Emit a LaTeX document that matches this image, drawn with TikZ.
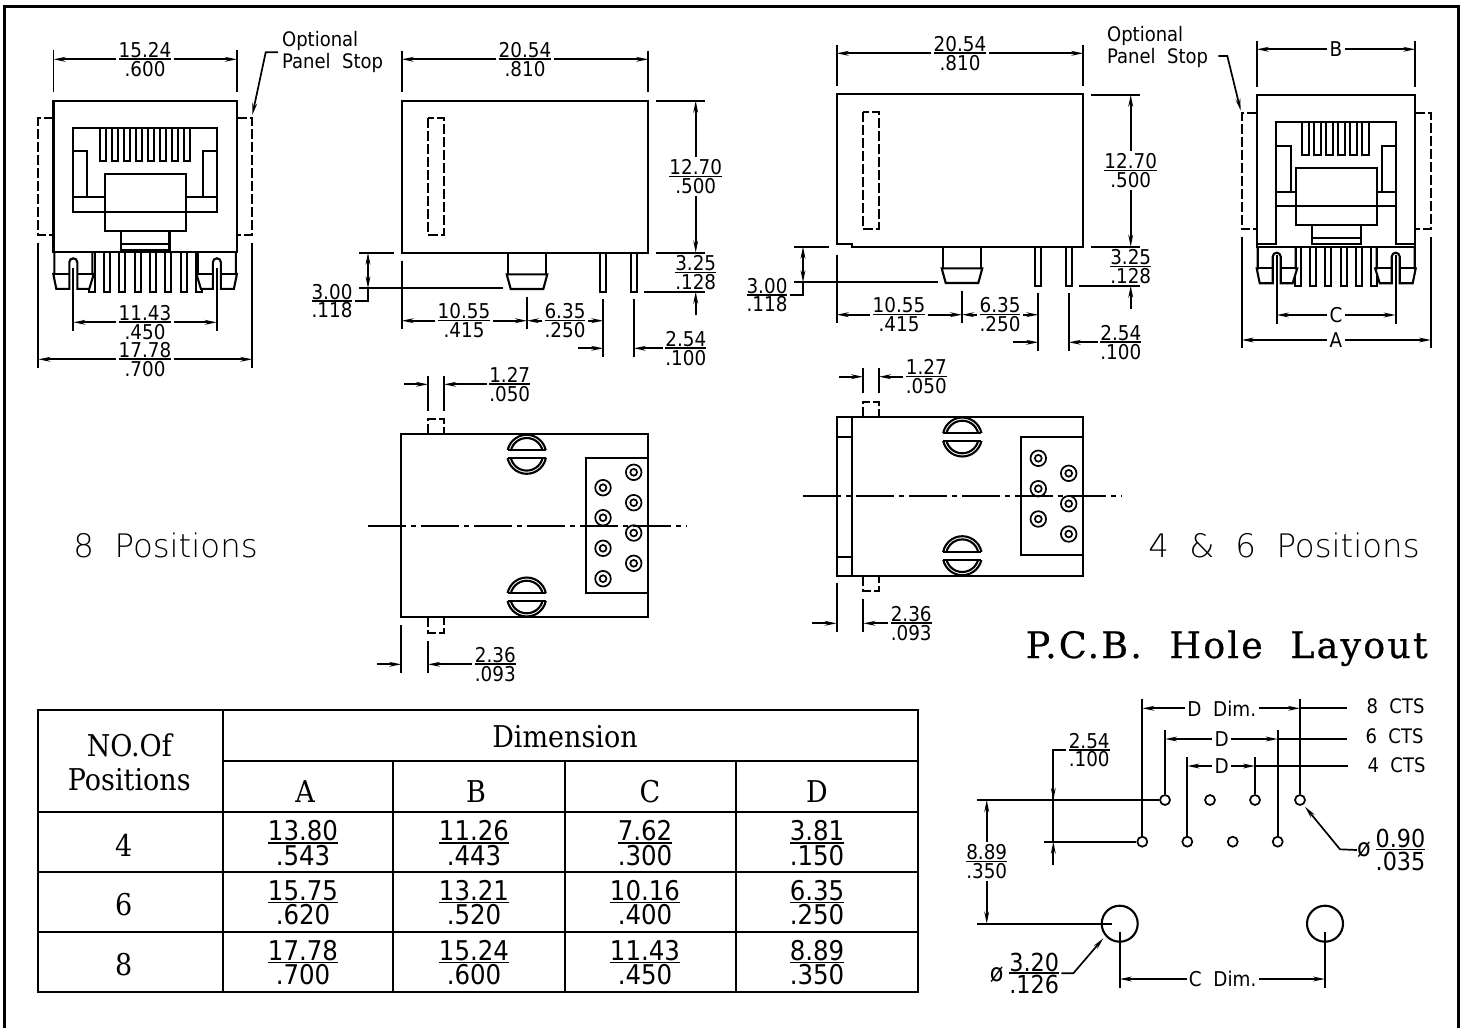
\documentclass[tikz,border=0pt]{standalone}
\usepackage{fontspec}
\usepackage{array}
\setmainfont{DejaVu Sans}
\newfontfamily\dimfont[FakeStretch=0.9]{DejaVu Sans}
\newfontfamily\lightfont{DejaVu Sans ExtraLight}
\newfontfamily\tablefont[FakeStretch=0.9]{DejaVu Serif}
\newfontfamily\titlefont[LetterSpace=6,FakeBold=0.6]{DejaVu Serif}
\usetikzlibrary{arrows.meta, positioning, calc}

% stacked metric/inch value with the rule in the middle
\newcommand{\dimstack}[2]{\begingroup\renewcommand{\arraystretch}{0}\setlength{\tabcolsep}{0pt}\setlength{\arrayrulewidth}{0.8pt}%
  \begin{tabular}{c}\rule[-.05em]{0pt}{.8em}#1\\\hline\rule{0pt}{.8em}#2\end{tabular}\endgroup}

\tikzset{
  part/.style={line width=1.05pt},
  dim/.style={line width=0.85pt},
  dashpart/.style={part, dash pattern=on 5pt off 1.5pt},
  dimarrow/.style={dim, -{Stealth[length=6pt,width=2.4pt]}},
  centerline/.style={dim, dash pattern=on 19pt off 2.5pt on 2.5pt off 2.5pt},
  dimlabel/.style={font=\dimfont\fontsize{10.2pt}{12pt}\selectfont, inner sep=1pt},
  celllabel/.style={font=\dimfont\fontsize{13.6pt}{15pt}\selectfont, inner sep=0pt},
  pcblabel/.style={font=\dimfont\fontsize{12.4pt}{15pt}\selectfont, inner sep=1pt},
  note/.style={font=\dimfont\fontsize{10pt}{12pt}\selectfont, inner sep=0pt},
  bigtext/.style={font=\lightfont\fontsize{16.2pt}{18pt}\selectfont, inner sep=0pt},
  tablehead/.style={font=\tablefont\fontsize{15pt}{18pt}\selectfont, inner sep=0pt},
  hole/.style={draw, circle, dim, inner sep=0pt, minimum size=5pt},
  bighole/.style={draw, circle, part, inner sep=0pt, minimum size=18pt},
  % jack clip below the housing, origin at pin centre on the housing edge
  rjclip/.pic={
    \draw[part, fill=white] (-19,0) -- (-19,21.7) -- (-20,21.7) -- (-17,36.5) -- (-4,36.5) -- (-4,10)
      arc[start angle=180, end angle=360, radius=4] -- (4,36.5) -- (16,36.5) -- (20.5,21.7) -- (19,21.7) -- (19,0);
    \draw[part] (-20,21.7) -- (-4,21.7) (4,21.7) -- (20.5,21.7);
  },
  % plug outline, origin at centre on the housing edge
  rjplug/.pic={
    \draw[part] (-40.6,-78.3) rectangle (40.6,-21.3);
    \draw[part] (-24.3,-21.3) -- (-24.3,-2.6) -- (24.3,-2.6) -- (24.3,-21.3);
    \draw[part] (-24.3,-8.6) -- (24.3,-8.6);
  },
  latch/.pic={
    \draw[part] (0,0) circle[radius=19.5];
    \draw[part] (0,0) circle[radius=16.3];
    \fill[white] (-21,-3.9) rectangle (21,3.9);
    \draw[part] (-19.1,-3.9) -- (19.1,-3.9) (-19.1,3.9) -- (19.1,3.9);
  },
  pad/.pic={
    \draw[dim] (0,0) circle[radius=7.8];
    \draw[dim] (0,0) circle[radius=3.4];
  },
  % side view, drawn at the place of the 8 position one
  sideview/.pic={
    \draw[dashpart] (427.7,118.3) rectangle (444.3,235);
    \draw[part] (508.3,252.7) -- (508.3,274.3) (546,252.7) -- (546,274.3);
    \draw[part] (506.7,274.3) -- (547.3,274.3) -- (543.3,289) -- (510.7,289) -- cycle;
    \draw[part] (599.7,252.7) rectangle (606.3,291.7);
    \draw[part] (630.7,252.7) rectangle (637,291.7);
    % Labels
    \node[dimlabel] (-len) at (525,59.3) {\dimstack{20.54}{.810}};
    \node[dimlabel] (-hgt) at (695.7,176.7) {\dimstack{12.70}{.500}};
    \node[dimlabel] (-pin) at (695.7,272.5) {\dimstack{3.25}{.128}};
    \node[dimlabel] (-post) at (332,301) {\dimstack{3.00}{.118}};
    \node[dimlabel] (-fro) at (464,320.7) {\dimstack{10.55}{.415}};
    \node[dimlabel] (-mid) at (565,320.7) {\dimstack{6.35}{.250}};
    \node[dimlabel] (-pit) at (685.8,348.3) {\dimstack{2.54}{.100}};
    % Arrows
    \draw[dim] (401.7,50.7) -- (401.7,92.3) (648.3,50.7) -- (648.3,92.3);
    \draw[dimarrow] (-len.west) -- (401.7,59.3);
    \draw[dimarrow] (-len.east) -- (648.3,59.3);
    \draw[dim] (656,100.7) -- (705,100.7) (656,252.7) -- (705,252.7) (644.3,291.7) -- (705,291.7);
    \draw[dimarrow] (-hgt.north) -- (695.7,100.7);
    \draw[dimarrow] (-hgt.south) -- (695.7,252.7);
    \draw[dimarrow] (695.7,315) -- (695.7,291.7);
    \draw[dim] (359,252.7) -- (394,252.7) (359,288.3) -- (502.7,288.3);
    \draw[dim, {Stealth[length=6pt,width=2.4pt]}-{Stealth[length=6pt,width=2.4pt]}] (368,252.7) -- (368,288.3);
    \draw[dim] (368,288.3) |- (-post.east);
    \draw[dim] (401.7,260.7) -- (401.7,329.3) (527,296.7) -- (527,329.3);
    \draw[dimarrow] (-fro.west) -- (401.7,320.7);
    \draw[dimarrow] (-fro.east) -- (527,320.7);
    \draw[dimarrow] (-mid.west) -- (527,320.7);
    \draw[dimarrow] (-mid.east) -- (603.3,320.7);
    \draw[dim] (603.3,299) -- (603.3,357) (633.7,299) -- (633.7,357);
    \draw[dimarrow] (578,348.3) -- (603.3,348.3);
    \draw[dimarrow] (-pit.west) -- (633.7,348.3);
  },
}

\begin{document}
\begin{tikzpicture}[x=0.5pt, y=-0.5pt]
    \useasboundingbox (0,0) rectangle (1465,1028);
    \draw[line width=1.2pt] (4.5,1028) -- (4.5,6.5) -- (1458.5,6.5) -- (1458.5,1028);

    % 8 position front view
    \foreach \k in {-3.5,-2.5,...,3.5}
        \draw[part] ({145.25+15.33*\k-3},252.3) -- ({145.25+15.33*\k-3},291.7) -- ({145.25+15.33*\k+3},291.7) -- ({145.25+15.33*\k+3},252.3);
    \pic at (73.3,252.3) {rjclip};
    \pic[xscale=-1] at (216.9,252.3) {rjclip};
    \draw[part] (53.5,100.7) rectangle (237,252.3);
    \draw[dashpart] (53.5,118.3) -- (38.3,118.3) -- (38.3,235) -- (53.5,235);
    \draw[dashpart] (237,118.3) -- (252.3,118.3) -- (252.3,235) -- (237,235);
    \draw[part] (73.3,127.7) rectangle (217,211.7);
    \foreach \k in {0,...,7}
        \draw[part] ({99.7+12*\k},127.7) |- ({106.4+12*\k},161) -- ({106.4+12*\k},127.7);
    \draw[part] (87,197.3) -- (87,151.3) -- (73.3,151.3) (73.3,197.3) -- (104.6,197.3);
    \draw[part] (203,197.3) -- (203,151.3) -- (217,151.3) (217,197.3) -- (185.8,197.3);
    \pic at (145.2,252.3) {rjplug};

    \node[dimlabel] (fw) at (145,59.3) {\dimstack{15.24}{.600}};
    \node[dimlabel] (fc) at (145,322.3) {\dimstack{11.43}{.450}};
    \node[dimlabel] (fa) at (145,359.3) {\dimstack{17.78}{.700}};
    \node[note, anchor=base west] (fopt) at (281.7,46.7) {Optional};
    \node[note, anchor=base west] (fstop) at (281.7,68.3) {Panel\ \ Stop};
    \draw[dim] (53.5,50) -- (53.5,91.7) (237,50) -- (237,91.7);
    \draw[dimarrow] (fw.west) -- (53.5,59.3);
    \draw[dimarrow] (fw.east) -- (237,59.3);
    \draw[dim] (73.3,268) -- (73.3,331) (216.7,268) -- (216.7,331);
    \draw[dimarrow] (fc.west) -- (73.3,322.3);
    \draw[dimarrow] (fc.east) -- (216.7,322.3);
    \draw[dim] (38.3,243) -- (38.3,368) (252.3,243) -- (252.3,368);
    \draw[dimarrow] (fa.west) -- (38.3,359.3);
    \draw[dimarrow] (fa.east) -- (252.3,359.3);
    \draw[dimarrow] (278,52.3) -- (265.7,52.3) -- (252.3,115);

    % side views
    \draw[part] (401.7,100.7) rectangle (648.3,252.7);
    \pic (sa) at (0,0) {sideview};
    \draw[part] (836.7,94.3) -- (1083.3,94.3) -- (1083.3,247) -- (851.7,247) -- (851.7,244) -- (836.7,244) -- cycle;
    \pic (sb) at (435,-6) {sideview};

    % 4 & 6 position front view
    \foreach \k in {-2.5,-1.5,...,2.5}
        \draw[part] ({1336+15.2*\k-3},246.7) -- ({1336+15.2*\k-3},285.7) -- ({1336+15.2*\k+3},285.7) -- ({1336+15.2*\k+3},246.7);
    \pic at (1276.7,246.7) {rjclip};
    \pic[xscale=-1] at (1395.7,246.7) {rjclip};
    \draw[part] (1256.7,94.7) rectangle (1415.3,246.7);
    \draw[dashpart] (1256.7,112.7) -- (1241.7,112.7) -- (1241.7,229.3) -- (1256.7,229.3);
    \draw[dashpart] (1415.3,112.7) -- (1431,112.7) -- (1431,229.3) -- (1415.3,229.3);
    \draw[part] (1256.7,244) -- (1275.7,244) -- (1275.7,122) -- (1396,122) -- (1396,244) -- (1415.3,244);
    \foreach \k in {0,...,5}
        \draw[part] ({1302.3+12*\k},122) |- ({1309+12*\k},154.7) -- ({1309+12*\k},122);
    \draw[part] (1291,191.7) -- (1291,145.7) -- (1275.7,145.7) (1275.7,191.7) -- (1296,191.7);
    \draw[part] (1381.7,191.7) -- (1381.7,145.7) -- (1396,145.7) (1396,191.7) -- (1376.7,191.7);
    \draw[part] (1275.7,205.7) -- (1396,205.7);
    \pic at (1336.3,246.7) {rjplug};

    \node[dimlabel] (fb) at (1336,49.3) {B};
    \node[dimlabel] (gc) at (1336,315) {C};
    \node[dimlabel] (ga) at (1336,340) {A};
    \node[note, anchor=base west] (gopt) at (1106.7,41.7) {Optional};
    \node[note, anchor=base west] (gstop) at (1106.7,63.3) {Panel\ \ Stop};
    \draw[dim] (1256.7,40.7) -- (1256.7,86.7) (1415.3,40.7) -- (1415.3,86.7);
    \draw[dimarrow] (fb.west) -- (1256.7,49.3);
    \draw[dimarrow] (fb.east) -- (1415.3,49.3);
    \draw[dim] (1276.7,255) -- (1276.7,324) (1395.7,255) -- (1395.7,324);
    \draw[dimarrow] (gc.west) -- (1276.7,315);
    \draw[dimarrow] (gc.east) -- (1395.7,315);
    \draw[dim] (1241.7,237.3) -- (1241.7,348) (1431,237.3) -- (1431,348);
    \draw[dimarrow] (ga.west) -- (1241.7,340);
    \draw[dimarrow] (ga.east) -- (1431,340);
    \draw[dimarrow] (1218.3,56) -- (1227.3,56) -- (1240.7,110.7);

    % bottom view, 8 positions
    \draw[part] (401.3,434) rectangle (648.3,617.3);
    \draw[dashpart] (428,434) -- (428,419) -- (444,419) -- (444,434);
    \draw[dashpart] (428,617.3) -- (428,632.7) -- (444,632.7) -- (444,617.3);
    \draw[part] (648.3,458.3) -- (585.7,458.3) -- (585.7,593.3) -- (648.3,593.3);
    \foreach \py in {487.7,517.7,548.3,578.7}
        \pic at (603,\py) {pad};
    \foreach \py in {472.3,502.7,533,563.3}
        \pic at (633.7,\py) {pad};
    \pic at (526.7,454.3) {latch};
    \pic at (526.7,597) {latch};
    \draw[centerline] (368.3,525.7) -- (686.7,525.7);
    \node[dimlabel] (ew) at (509.7,384.3) {\dimstack{1.27}{.050}};
    \node[dimlabel] (eo) at (495.3,664.3) {\dimstack{2.36}{.093}};
    \draw[dim] (428,375.7) -- (428,411) (444,375.7) -- (444,411);
    \draw[dimarrow] (404,384.3) -- (428,384.3);
    \draw[dimarrow] (ew.west) -- (444,384.3);
    \draw[dim] (401.3,625) -- (401.3,673.3) (428,641) -- (428,673.3);
    \draw[dimarrow] (377.3,664.3) -- (401.3,664.3);
    \draw[dimarrow] (eo.west) -- (428,664.3);

    % bottom view, 4 & 6 positions
    \draw[part] (836.7,417.3) rectangle (1083.3,575.7);
    \draw[part] (852,417.3) -- (852,575.7) (836.7,436.7) -- (852,436.7) (836.7,556.7) -- (852,556.7);
    \draw[dashpart] (863,417.3) -- (863,401.7) -- (879.3,401.7) -- (879.3,417.3);
    \draw[dashpart] (863,575.7) -- (863,590.7) -- (879.3,590.7) -- (879.3,575.7);
    \draw[part] (1083.3,437.3) -- (1020.7,437.3) -- (1020.7,555) -- (1083.3,555);
    \foreach \py in {458.3,488.7,519}
        \pic at (1038.3,\py) {pad};
    \foreach \py in {473.3,503.7,534}
        \pic at (1068.7,\py) {pad};
    \pic at (962.3,437) {latch};
    \pic at (962.3,555.7) {latch};
    \draw[centerline] (803.3,496) -- (1121.7,496);
    \node[dimlabel] (hw) at (926.3,376.7) {\dimstack{1.27}{.050}};
    \node[dimlabel] (ho) at (911.2,623.3) {\dimstack{2.36}{.093}};
    \draw[dim] (863,368.3) -- (863,393.3) (879,368.3) -- (879,393.3);
    \draw[dimarrow] (839.3,376.7) -- (863,376.7);
    \draw[dimarrow] (hw.west) -- (879,376.7);
    \draw[dim] (836.7,583.3) -- (836.7,631.7) (863.3,599.3) -- (863.3,631.7);
    \draw[dimarrow] (812.3,623.3) -- (836.7,623.3);
    \draw[dimarrow] (ho.west) -- (863.3,623.3);

    \node[bigtext, anchor=base west] (eight) at (73,557) {8\ \ Positions};
    \node[bigtext, anchor=base east] (four) at (1420,557) {4\ \ \&\ \ 6\ \ Positions};
    \node[inner sep=0pt, anchor=base east, font=\titlefont\fontsize{18.2pt}{20pt}\selectfont] (title) at (1428,658) {P.C.B.\ \ Hole\ \ Layout};

    % table
    \draw[part] (38.3,710) rectangle (918,992);
    \draw[part] (222.7,710) -- (222.7,992) (222.7,761) -- (918,761) (38.3,812.3) -- (918,812.3);
    \draw[part] (38.3,872.3) -- (918,872.3) (38.3,932) -- (918,932);
    \draw[part] (393.3,761) -- (393.3,992) (565,761) -- (565,992) (736,761) -- (736,992);
    \node[tablehead] (no) at (129.3,745) {NO.Of};
    \node[tablehead] (pos) at (129.3,780) {Positions};
    \node[tablehead] (dimhead) at (565,737) {Dimension};
    \node[tablehead] (row4) at (123.7,845.7) {4};
    \node[tablehead] (row6) at (123.7,905) {6};
    \node[tablehead] (row8) at (123.7,965) {8};
    \foreach \cx/\hx/\hd/\pa/\qa/\pb/\qb/\pc/\qc in {
        303/305/A/13.80/.543/15.75/.620/17.78/.700,
        474/476/B/11.26/.443/13.21/.520/15.24/.600,
        645/650/C/7.62/.300/10.16/.400/11.43/.450,
        817/817/D/3.81/.150/6.35/.250/8.89/.350}{
        \node[tablehead] (head\hd) at (\hx,791.7) {\hd};
        \node[celllabel] (cell\hd4) at (\cx,843) {\dimstack{\pa}{\qa}};
        \node[celllabel] (cell\hd6) at (\cx,902.5) {\dimstack{\pb}{\qb}};
        \node[celllabel] (cell\hd8) at (\cx,962.5) {\dimstack{\pc}{\qc}};
    }

    % P.C.B. layout
    \node[hole] (ta) at (1165,800) {};
    \node[hole] (tb) at (1210,800) {};
    \node[hole] (tc) at (1255,800) {};
    \node[hole] (td) at (1300,800) {};
    \node[hole] (ba) at (1142.3,841.7) {};
    \node[hole] (bb) at (1187.3,841.7) {};
    \node[hole] (bc) at (1232.7,841.7) {};
    \node[hole] (bd) at (1277.7,841.7) {};
    \node[bighole] (bigl) at (1119.7,923.7) {};
    \node[bighole] (bigr) at (1325,923.7) {};

    \node[dimlabel] (dd) at (1221.7,708.3) {D\ \ Dim.};
    \node[dimlabel] (dsix) at (1221.7,739) {D};
    \node[dimlabel] (dfour) at (1221.7,766) {D};
    \node[note] (cts8) at (1395.5,706.7) {8\ \ CTS};
    \node[note] (cts6) at (1394.5,736) {6\ \ CTS};
    \node[note] (cts4) at (1396.5,765) {4\ \ CTS};
    \node[dimlabel] (cdim) at (1222.7,979) {C\ \ Dim.};
    \node[dimlabel] (vpitch) at (1089.2,750) {\dimstack{2.54}{.100}};
    \node[dimlabel] (vrow) at (986.7,861.7) {\dimstack{8.89}{.350}};
    \node[pcblabel] (dsmall) at (1400.5,849.7) {\dimstack{0.90}{.035}};
    \node[pcblabel] (dbig) at (1034.2,973.3) {\dimstack{3.20}{.126}};
    \node[pcblabel, inner sep=0pt] (phis) at (1364,850) {ø};
    \node[pcblabel, inner sep=0pt] (phib) at (996.7,975) {ø};

    \draw[dim] (ba.north) -- (1142.3,699.3) (td.north) -- (1300,699.3);
    \draw[dimarrow] (dd.west) -- (1142.3,708.3);
    \draw[dimarrow] (dd.east) -- (1300,708.3);
    \draw[dim] (1300,708.3) -- (1347.3,708.3);
    \draw[dim] (ta.north) -- (1165,730) (bd.north) -- (1277.7,730);
    \draw[dimarrow] (dsix.west) -- (1165,739);
    \draw[dimarrow] (dsix.east) -- (1277.7,739);
    \draw[dim] (1277.7,739) -- (1347.3,739);
    \draw[dim] (bb.north) -- (1187.3,757.3) (tc.north) -- (1255,757.3);
    \draw[dimarrow] (dfour.west) -- (1187.3,766);
    \draw[dimarrow] (dfour.east) -- (1255,766);
    \draw[dim] (1255,766) -- (1348.3,766);

    \draw[dim] (977.3,800) -- (ta.west) (1044.3,841.7) -- (ba.west) (977.3,923.7) -- (1111.7,923.7);
    \draw[dim] (vpitch.west |- 0,750) -- (1053.3,750) -- (1053.3,841.7);
    \draw[dimarrow] (1053.3,780) -- (1053.3,800);
    \draw[dimarrow] (1053.3,865) -- (1053.3,841.7);
    \draw[dimarrow] (vrow.north) -- (986.7,800);
    \draw[dimarrow] (vrow.south) -- (986.7,923.7);

    \draw[dimarrow] (phis.west) -- (1340,849.3) -- (1305,806.7);
    \draw[dimarrow] (dbig.east) -- (1073.3,973.3) -- (1103.3,938.3);

    \draw[dim] (1119.7,931.7) -- (1119.7,988.3) (1325,931.7) -- (1325,988.3);
    \draw[dimarrow] (cdim.west) -- (1119.7,979);
    \draw[dimarrow] (cdim.east) -- (1325,979);
\end{tikzpicture}
\end{document}
